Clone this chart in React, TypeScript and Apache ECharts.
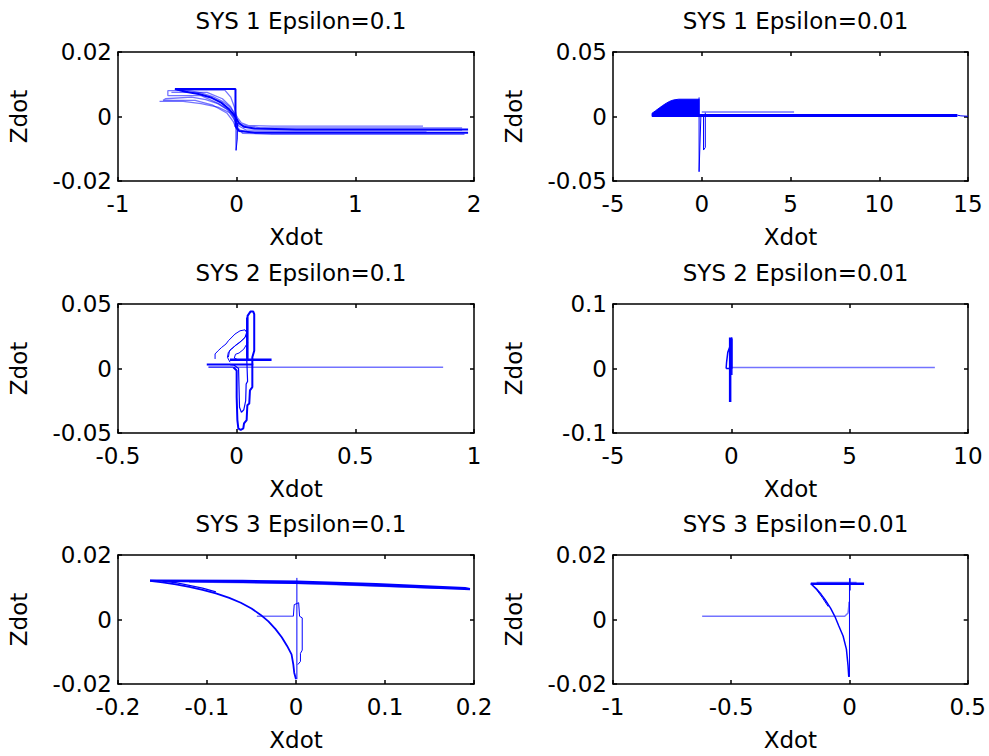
import React, { useEffect, useRef } from "react";
import * as echarts from "echarts";

const titles = [
  "SYS 1 Epsilon=0.1",
  "SYS 1 Epsilon=0.01",
  "SYS 2 Epsilon=0.1",
  "SYS 2 Epsilon=0.01",
  "SYS 3 Epsilon=0.1",
  "SYS 3 Epsilon=0.01",
];
// [min, max, interval]
const xRanges = [
  [-1, 2, 1],
  [-5, 15, 5],
  [-0.5, 1, 0.5],
  [-5, 10, 5],
  [-0.2, 0.2, 0.1],
  [-1, 0.5, 0.5],
];
const yRanges = [
  [-0.02, 0.02, 0.02],
  [-0.05, 0.05, 0.05],
  [-0.05, 0.05, 0.05],
  [-0.1, 0.1, 0.1],
  [-0.02, 0.02, 0.02],
  [-0.02, 0.02, 0.02],
];
const xName = "Xdot";
const yName = "Zdot";

// ---- SYS 1, eps 0.1 ----
const p1Main = [[1.95,-0.0040],[0.5,-0.0040],[0.15,-0.0037],[0.06,-0.0032],[0.02,-0.0020],[0.0,-0.0008],[-0.03,0.0008],[-0.07,0.0025],[-0.13,0.0043],[-0.21,0.0058],[-0.31,0.0069],[-0.43,0.0077],[-0.52,0.0085],[-0.01,0.0085],[-0.01,-0.0030],[0.02,-0.0045],[0.15,-0.0050],[1.95,-0.0050]];
const p1B = [[1.57,-0.0030],[0.3,-0.0030],[0.1,-0.0028],[0.04,-0.0020],[0.01,-0.0005],[-0.02,0.0012],[-0.06,0.0030],[-0.12,0.0047],[-0.2,0.0062],[-0.3,0.0073],[-0.4,0.0080],[-0.58,0.0080],[-0.58,0.0065],[-0.3,0.0065],[-0.15,0.0040],[-0.06,0.0018],[-0.02,-0.0002],[0.02,-0.0025],[0.2,-0.0035],[1.9,-0.0035]];
const p1C = [[1.92,-0.0055],[0.3,-0.0055],[0.05,-0.0052],[0.01,-0.0035],[-0.03,0.0],[-0.08,0.0022],[-0.16,0.0040],[-0.26,0.0052],[-0.38,0.0060],[-0.6,0.0055],[-0.62,0.0050],[-0.35,0.0050],[-0.2,0.0035],[-0.08,0.0010],[-0.03,-0.0015],[0.0,-0.0040],[0.1,-0.0048],[1.6,-0.0048]];
const p1D = [[-0.65,0.0047],[-0.45,0.0047],[-0.3,0.0040],[-0.15,0.0028],[-0.06,0.0012],[-0.02,-0.0010],[0.01,-0.0028],[0.08,-0.0042],[1.9,-0.0042]];
const p1E = [[-0.55,0.0075],[-0.25,0.0075],[-0.12,0.0055],[-0.05,0.0030],[-0.015,0.0005]];
const p1F = [[-0.5,0.0082],[-0.1,0.0082],[-0.05,0.0060],[-0.02,0.0030],[0.0,0.0]];
const p1Spike = [[0.0,0.0],[-0.005,-0.0040],[-0.005,-0.0105],[0.005,-0.0070],[0.008,-0.0020],[0.01,-0.0030]];

// ---- SYS 1, eps 0.01 ----
const p2Fill = [[-2.8,0],[-2.8,0.0025],[-2.6,0.0045],[-2.4,0.0065],[-2.2,0.0085],[-2.0,0.0103],[-1.8,0.0118],[-1.6,0.0128],[-1.3,0.0134],[-0.15,0.0134],[-0.15,0]];
const p2Band = [[-2.8,0.0008],[14.4,0.0008]];
const p2Upper = [[0,0.0035],[5.2,0.0035]];
const p2Tail = [[14.4,0.0010],[14.6,0.0005],[15,0.0002]];
const p2Spike = [[-0.15,0.0148],[-0.15,-0.0428],[-0.05,0.0],[0.1,0.0],[0.1,-0.026],[0.2,-0.024],[0.2,0.003]];

// ---- SYS 2, eps 0.1 ----
const p3H1 = [[-0.028,0.0067],[0.147,0.0067]];
const p3H2 = [[-0.126,0.0031],[0.070,0.0031]];
const p3H3 = [[-0.119,0.0010],[-0.014,0.0010]];
const p3Long = [[-0.014,0.0010],[0.87,0.0010]];
const p3Outer = [[0.046,0.0074],[0.046,0.0408],[0.058,0.0441],[0.070,0.0441],[0.074,0.0421],[0.074,0.0138],[0.066,0.0087],[0.066,-0.0144],[0.056,-0.0169],[0.053,-0.0272],[0.045,-0.0285],[0.042,-0.0400],[0.031,-0.0426],[0.028,-0.0464],[0.017,-0.0477],[0.007,-0.0464],[0.003,-0.0400],[0.0,-0.0221],[0.0,-0.0015],[-0.014,0.0010]];
const p3Inner = [[0.042,0.0395],[0.042,0.010],[0.046,-0.010],[0.040,-0.012],[0.038,-0.025],[0.030,-0.032],[0.020,-0.034],[0.012,-0.030],[0.010,-0.015],[0.008,0.0],[-0.010,0.0025],[-0.028,0.0030]];
const p3Loop1 = [[-0.091,0.0074],[-0.091,0.0113],[-0.078,0.0138],[-0.063,0.0164],[-0.045,0.0190],[-0.035,0.0215],[-0.007,0.0267],[0.014,0.0292],[0.035,0.0300],[0.042,0.0280],[0.035,0.0241],[0.014,0.0203],[-0.007,0.0177],[-0.021,0.0151],[-0.035,0.0126],[-0.039,0.0087],[-0.028,0.0049]];
const p3Loop2 = [[-0.035,0.0087],[-0.030,0.0140],[-0.010,0.0170],[0.010,0.0200],[0.030,0.0230],[0.042,0.0260],[0.046,0.0200],[0.030,0.0150],[0.010,0.0120],[-0.005,0.0110],[-0.010,0.0080],[0.0,0.0074]];

// ---- SYS 2, eps 0.01 ----
const p4Spike = [[-0.05,0.048],[-0.05,-0.052]];
const p4Spike2 = [[0.02,0.046],[0.02,-0.01]];
const p4Leaf = [[-0.22,0.0],[-0.2,0.01],[-0.15,0.025],[-0.05,0.035],[0.0,0.045],[0.02,0.048],[0.02,0.0],[-0.22,0.0]];
const p4Long = [[0,0.0015],[8.6,0.0015]];

// ---- SYS 3, eps 0.1 ----
const p5Top1 = [[-0.164,0.0121],[-0.06,0.0120],[0.001,0.0118],[0.09,0.0110],[0.19,0.0098],[0.1955,0.0095]];
const p5Top2 = [[-0.150,0.0119],[-0.06,0.0116],[0.03,0.0112],[0.12,0.0102],[0.1955,0.0094]];
const p5Top3 = [[-0.12,0.0117],[0.0,0.0113],[0.16,0.0098]];
const p5Curve = [[-0.164,0.0120],[-0.150,0.0115],[-0.135,0.0109],[-0.120,0.0101],[-0.105,0.0092],[-0.090,0.0081],[-0.075,0.0067],[-0.062,0.0052],[-0.050,0.0034],[-0.040,0.0015],[-0.031,-0.0006],[-0.023,-0.0030],[-0.016,-0.0055],[-0.010,-0.0082],[-0.005,-0.0108],[-0.003,-0.0140],[-0.002,-0.0165],[0.0,-0.0185]];
const p5Curve2 = [[-0.164,0.0121],[-0.150,0.0120],[-0.135,0.0114],[-0.120,0.0106],[-0.105,0.0097],[-0.090,0.0086]];
const p5Vert = [[0.001,0.0129],[0.001,-0.0185]];
const p5Wiggle = [[-0.003,0.001],[-0.002,0.0046],[0.003,0.0052],[0.004,0.0010],[0.007,0.0005],[0.007,-0.0095],[0.005,-0.0105],[0.005,-0.0130],[0.002,-0.0140]];
const p5Light = [[-0.044,0.001],[-0.003,0.001]];

// ---- SYS 3, eps 0.01 ----
const p6Light = [[-0.623,0.001],[-0.02,0.001],[-0.006,0.002],[-0.003,0.0041],[-0.002,0.0055]];
const p6Top = [[-0.1635,0.0111],[0.0617,0.0111]];
const p6TopLight = [[-0.139,0.0115],[0.030,0.0115]];
const p6Curve = [[-0.1635,0.0111],[-0.140,0.0095],[-0.120,0.0078],[-0.104,0.0062],[-0.080,0.0035],[-0.062,0.0010],[-0.045,-0.0020],[-0.027,-0.0051],[-0.013,-0.0092],[-0.006,-0.0144],[-0.003,-0.0178]];
const p6Curve2 = [[-0.1635,0.0111],[-0.139,0.0092],[-0.115,0.0068],[-0.090,0.0040]];
const p6Vert = [[0.0,0.0128],[0.0,-0.0178]];
const p6Vert2 = [[0.003,0.0128],[0.003,0.0090]];

const DARK = "#0000ff";
const LIGHT = "rgba(0,0,255,0.55)";
const FONT = "'DejaVu Sans', sans-serif";

type Pts = number[][];
const panelSeries: { data: Pts; w: number; c: string; fill?: boolean }[][] = [
  [
    { data: p1B, w: 1.3, c: LIGHT },
    { data: p1C, w: 1.3, c: LIGHT },
    { data: p1D, w: 1.3, c: LIGHT },
    { data: p1E, w: 1.3, c: LIGHT },
    { data: p1F, w: 1.3, c: LIGHT },
    { data: p1Main, w: 2, c: DARK },
    { data: p1Spike, w: 1, c: DARK },
  ],
  [
    { data: p2Fill, w: 1, c: DARK, fill: true },
    { data: p2Upper, w: 1.5, c: LIGHT },
    { data: p2Band, w: 3, c: DARK },
    { data: p2Tail, w: 1, c: DARK },
    { data: p2Spike, w: 1, c: DARK },
  ],
  [
    { data: p3Long, w: 1.5, c: LIGHT },
    { data: p3Loop1, w: 1, c: DARK },
    { data: p3Loop2, w: 1, c: DARK },
    { data: p3Inner, w: 1.2, c: DARK },
    { data: p3Outer, w: 2, c: DARK },
    { data: p3H1, w: 2.5, c: DARK },
    { data: p3H2, w: 2, c: DARK },
    { data: p3H3, w: 1.2, c: DARK },
  ],
  [
    { data: p4Long, w: 1.5, c: LIGHT },
    { data: p4Leaf, w: 1.5, c: DARK },
    { data: p4Spike, w: 2.5, c: DARK },
    { data: p4Spike2, w: 1.5, c: DARK },
  ],
  [
    { data: p5Light, w: 1.5, c: LIGHT },
    { data: p5Top3, w: 2, c: LIGHT },
    { data: p5Top2, w: 2, c: DARK },
    { data: p5Top1, w: 2, c: DARK },
    { data: p5Curve2, w: 1.3, c: DARK },
    { data: p5Curve, w: 1.8, c: DARK },
    { data: p5Vert, w: 1, c: DARK },
    { data: p5Wiggle, w: 1, c: DARK },
  ],
  [
    { data: p6Light, w: 1.5, c: LIGHT },
    { data: p6TopLight, w: 1.5, c: LIGHT },
    { data: p6Top, w: 2.5, c: DARK },
    { data: p6Curve2, w: 1, c: DARK },
    { data: p6Curve, w: 1.5, c: DARK },
    { data: p6Vert, w: 1, c: DARK },
    { data: p6Vert2, w: 1, c: DARK },
  ],
];

const colLeft = [118, 613];
const colWidth = [356, 355];
const rowTop = [52, 304, 555];
const rowHeight = 129;

function buildOption() {
  const grids: any[] = [];
  const xAxes: any[] = [];
  const yAxes: any[] = [];
  const series: any[] = [];
  const title: any[] = [];
  const lineStyle = { color: "#000", width: 1.5 };
  const tick = { show: true, inside: true, length: 4, lineStyle: { color: "#000", width: 1.5 } };
  const label = { fontSize: 23, color: "#000", fontFamily: FONT };

  for (let i = 0; i < 6; i++) {
    const r = Math.floor(i / 2);
    const c = i % 2;
    grids.push({
      left: colLeft[c],
      top: rowTop[r],
      width: colWidth[c],
      height: rowHeight,
      containLabel: false,
    });
    const [xmin, xmax, xint] = xRanges[i];
    const [ymin, ymax, yint] = yRanges[i];
    title.push({
      text: titles[i],
      left: colLeft[c] + colWidth[c] / 2,
      top: rowTop[r] - 48,
      textAlign: "center",
      textStyle: { fontSize: 23, fontWeight: "normal", color: "#000", fontFamily: FONT },
    });
    xAxes.push({
      gridIndex: i,
      type: "value",
      position: "bottom",
      min: xmin,
      max: xmax,
      interval: xint,
      axisLine: { show: true, onZero: false, lineStyle },
      axisTick: tick,
      axisLabel: { ...label, margin: 11, showMinLabel: true, showMaxLabel: true },
      splitLine: { show: false },
      name: xName,
      nameLocation: "middle",
      nameGap: 44,
      nameTextStyle: label,
    });
    xAxes.push({
      gridIndex: i,
      type: "value",
      position: "top",
      min: xmin,
      max: xmax,
      interval: xint,
      axisLine: { show: true, onZero: false, lineStyle },
      axisTick: tick,
      axisLabel: { show: false },
      splitLine: { show: false },
    });
    yAxes.push({
      gridIndex: i,
      type: "value",
      position: "left",
      min: ymin,
      max: ymax,
      interval: yint,
      axisLine: { show: true, onZero: false, lineStyle },
      axisTick: tick,
      axisLabel: { ...label, margin: 6, showMinLabel: true, showMaxLabel: true },
      splitLine: { show: false },
      name: yName,
      nameLocation: "middle",
      nameGap: 88,
      nameTextStyle: label,
    });
    yAxes.push({
      gridIndex: i,
      type: "value",
      position: "right",
      min: ymin,
      max: ymax,
      interval: yint,
      axisLine: { show: true, onZero: false, lineStyle },
      axisTick: tick,
      axisLabel: { show: false },
      splitLine: { show: false },
    });
    for (const s of panelSeries[i]) {
      series.push({
        type: "line",
        xAxisIndex: 2 * i,
        yAxisIndex: 2 * i,
        data: s.data,
        showSymbol: false,
        symbol: "none",
        smooth: false,
        clip: true,
        silent: true,
        lineStyle: { color: s.c, width: s.w },
        itemStyle: { color: s.c },
        areaStyle: s.fill ? { color: s.c, opacity: 1 } : undefined,
      });
    }
  }
  return {
    animation: false,
    backgroundColor: "#fff",
    title,
    grid: grids,
    xAxis: xAxes,
    yAxis: yAxes,
    series,
  };
}

export default function App() {
  const ref = useRef<HTMLDivElement>(null);
  useEffect(() => {
    if (!ref.current) return;
    const chart = echarts.init(ref.current, undefined, { renderer: "svg" });
    chart.setOption(buildOption() as any);
    return () => chart.dispose();
  }, []);
  return (
    <div
      ref={ref}
      style={{ position: "fixed", left: 0, top: 0, width: 989, height: 756, background: "#fff" }}
    />
  );
}
